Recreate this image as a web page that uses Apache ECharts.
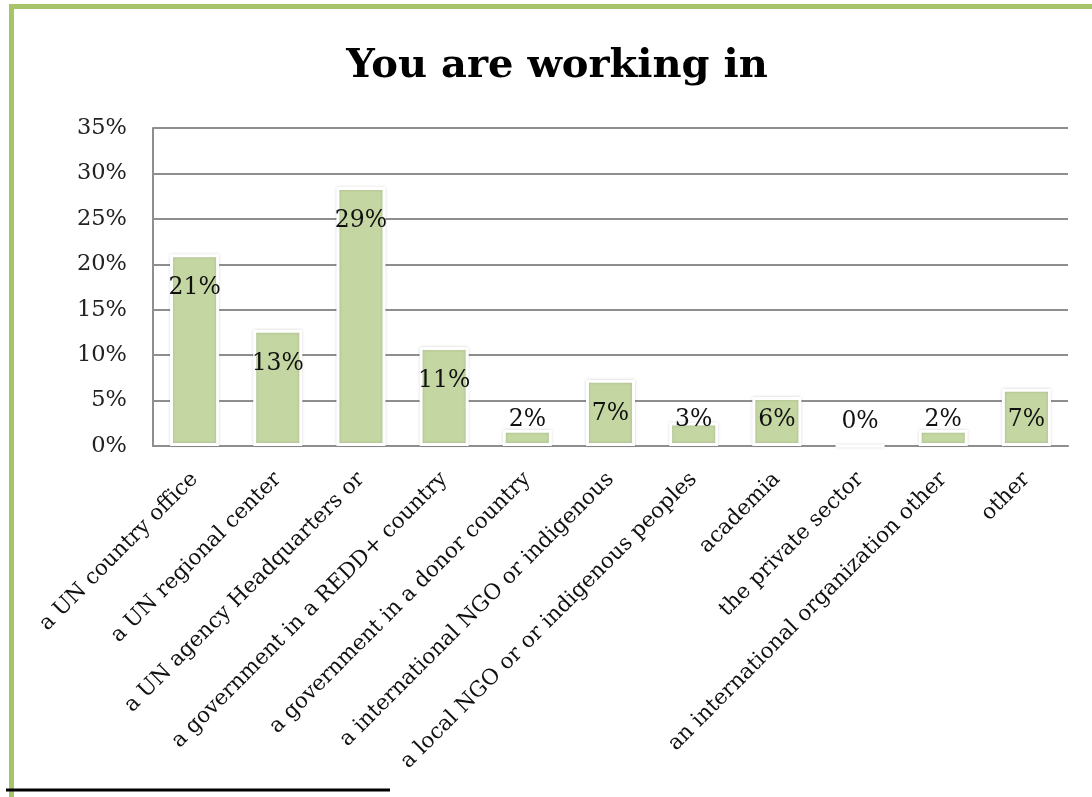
<!DOCTYPE html>
<html>
<head>
<meta charset="utf-8">
<script src="https://cdn.jsdelivr.net/npm/echarts@6/dist/echarts.min.js"></script>
<style>
html,body{margin:0;padding:0;background:#fff;}
#chart{width:1092px;height:797px;}
</style>
</head>
<body>
<div id="chart"></div>
<script>
const titleText = 'You are working in';
const categories = [
  'a UN country office',
  'a UN regional center',
  'a UN agency Headquarters or',
  'a government in a REDD+ country',
  'a government in a donor country',
  'a international NGO or indigenous',
  'a local NGO or or indigenous peoples',
  'academia',
  'the private sector',
  'an international organization other',
  'other'
];
const values = [21.1, 12.8, 28.5, 10.9, 1.8, 7.3, 2.6, 5.4, 0, 1.8, 6.3];
const valueLabels = ['21%', '13%', '29%', '11%', '2%', '7%', '3%', '6%', '0%', '2%', '7%'];
const yMin = 0, yMax = 35, yStep = 5;

const SERIF = "'DejaVu Serif', 'Liberation Serif', serif";
const GRID_COLOR = '#8e8e8e';
const chart = echarts.init(document.getElementById('chart'), null, {renderer: 'canvas'});

function buildData(useTop) {
  return values.map((v, i) => ({
    value: v,
    label: useTop[i]
      ? {position: 'insideTop', distance: 22}
      : {position: 'insideBottom', distance: 14}
  }));
}

const option = {
  backgroundColor: '#ffffff',
  animation: false,
  title: {
    text: titleText,
    left: 557,
    top: 47,
    padding: 0,
    textAlign: 'center',
    textStyle: {fontFamily: SERIF, fontWeight: 'bold', fontSize: 40, color: '#000'}
  },
  grid: {left: 153, right: 24, top: 128, bottom: 351, containLabel: false},
  xAxis: {
    type: 'category',
    data: categories,
    axisTick: {show: false},
    axisLine: {lineStyle: {color: GRID_COLOR, width: 2}},
    axisLabel: {
      interval: 0, rotate: 45, margin: 30,
      fontFamily: SERIF, fontSize: 21.5, color: '#111'
    }
  },
  yAxis: {
    type: 'value',
    min: yMin, max: yMax, interval: yStep,
    axisLine: {show: true, lineStyle: {color: GRID_COLOR, width: 2}},
    axisTick: {show: false},
    splitLine: {lineStyle: {color: GRID_COLOR, width: 2}},
    axisLabel: {formatter: '{value}%', fontFamily: SERIF, fontSize: 22.5, color: '#222', margin: 26}
  },
  graphic: [
    {type: 'rect', silent: true, z: 100,
     shape: {x: 11.5, y: 6.5, width: 1200, height: 1000},
     style: {fill: null, stroke: '#a8c46a', lineWidth: 5}},
    {type: 'line', silent: true, z: 100,
     shape: {x1: 6, y1: 790, x2: 390, y2: 790},
     style: {stroke: '#000', lineWidth: 3}}
  ],
  series: [{
    type: 'bar',
    data: buildData(values.map(() => true)),
    barWidth: '59%',
    itemStyle: {
      color: '#c4d6a2',
      borderColor: '#ffffff',
      borderWidth: 3,
      shadowBlur: 3,
      shadowColor: 'rgba(0,0,0,0.15)'
    },
    label: {
      show: true,
      formatter: p => valueLabels[p.dataIndex],
      fontFamily: SERIF, fontSize: 23.5, color: '#111'
    }
  }]
};
chart.setOption(option);

// Decide label placement from pixel heights given by the value axis
const basePx = chart.convertToPixel({yAxisIndex: 0}, 0);
const useTop = values.map(v => (basePx - chart.convertToPixel({yAxisIndex: 0}, v)) > 59);
chart.setOption({series: [{data: buildData(useTop)}]});
</script>
</body>
</html>
